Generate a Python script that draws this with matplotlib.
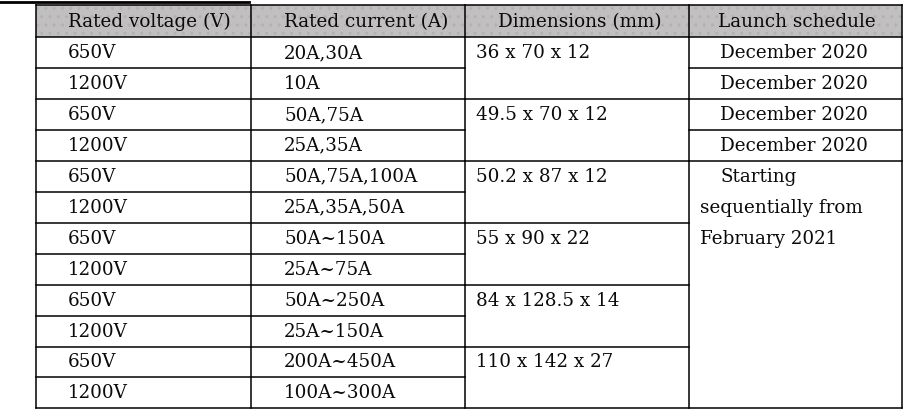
import matplotlib.pyplot as plt
from matplotlib.patches import Rectangle

headers = ['Rated voltage (V)', 'Rated current (A)', 'Dimensions (mm)', 'Launch schedule']
voltages = ['650V', '1200V'] * 6
currents = ['20A,30A', '10A', '50A,75A', '25A,35A', '50A,75A,100A', '25A,35A,50A',
            '50A~150A', '25A~75A', '50A~250A', '25A~150A', '200A~450A', '100A~300A']
dimensions = ['36 x 70 x 12', '49.5 x 70 x 12', '50.2 x 87 x 12',
              '55 x 90 x 22', '84 x 128.5 x 14', '110 x 142 x 27']
launch = ['December 2020'] * 4
launch_later = ['Starting', 'sequentially from', 'February 2021']

# layout in pixels
col_x = [36, 251, 465, 689, 902]
top, head_h, row_h = 5, 32, 30.95
n_rows = len(voltages)
row_y = [top + head_h + i * row_h for i in range(n_rows + 1)]
bottom = row_y[-1]

fig = plt.figure(figsize=(9.19, 4.18), dpi=100)
ax = fig.add_axes([0, 0, 1, 1])
ax.set_xlim(0, 919)
ax.set_ylim(418, 0)
ax.axis('off')

font = dict(family='DejaVu Serif', fontsize=13.2, color='#0a0a0a', va='center')
lw = 1.1

# header
ax.add_patch(Rectangle((col_x[0], top), col_x[-1] - col_x[0], head_h,
                       facecolor='#c1bfbf', edgecolor='#b3b1b1', hatch='..', lw=0))
head_x = [68, 284, 498, 718]
for x, h in zip(head_x, headers):
    ax.text(x, top + head_h / 2 + 1, h, **font)

# partial title underline at the top
ax.plot([0, 249], [1.5, 1.5], color='black', lw=2)

# outer border and vertical lines
for x in col_x:
    ax.plot([x, x], [top, bottom], color='black', lw=lw)
ax.plot([col_x[0], col_x[-1]], [top, top], color='black', lw=lw)
ax.plot([col_x[0], col_x[-1]], [bottom, bottom], color='black', lw=lw)

# horizontal lines
for i, y in enumerate(row_y[:-1]):
    ax.plot([col_x[0], col_x[2]], [y, y], color='black', lw=lw)
    if i % 2 == 0:
        ax.plot([col_x[2], col_x[3]], [y, y], color='black', lw=lw)
    if i <= len(launch):
        ax.plot([col_x[3], col_x[4]], [y, y], color='black', lw=lw)

# cell text
for i in range(n_rows):
    yc = (row_y[i] + row_y[i + 1]) / 2 + 0.5
    ax.text(68, yc, voltages[i], **font)
    ax.text(284, yc, currents[i], **font)
for j, d in enumerate(dimensions):
    yc = (row_y[2 * j] + row_y[2 * j + 1]) / 2 + 0.5
    ax.text(476, yc, d, **font)
for i, l in enumerate(launch):
    yc = (row_y[i] + row_y[i + 1]) / 2 + 0.5
    ax.text(720, yc, l, **font)
for k, l in enumerate(launch_later):
    i = len(launch) + k
    yc = (row_y[i] + row_y[i + 1]) / 2 + 0.5
    ax.text(720 if k == 0 else 700, yc, l, **font)

fig.savefig('out.png', dpi=100)
